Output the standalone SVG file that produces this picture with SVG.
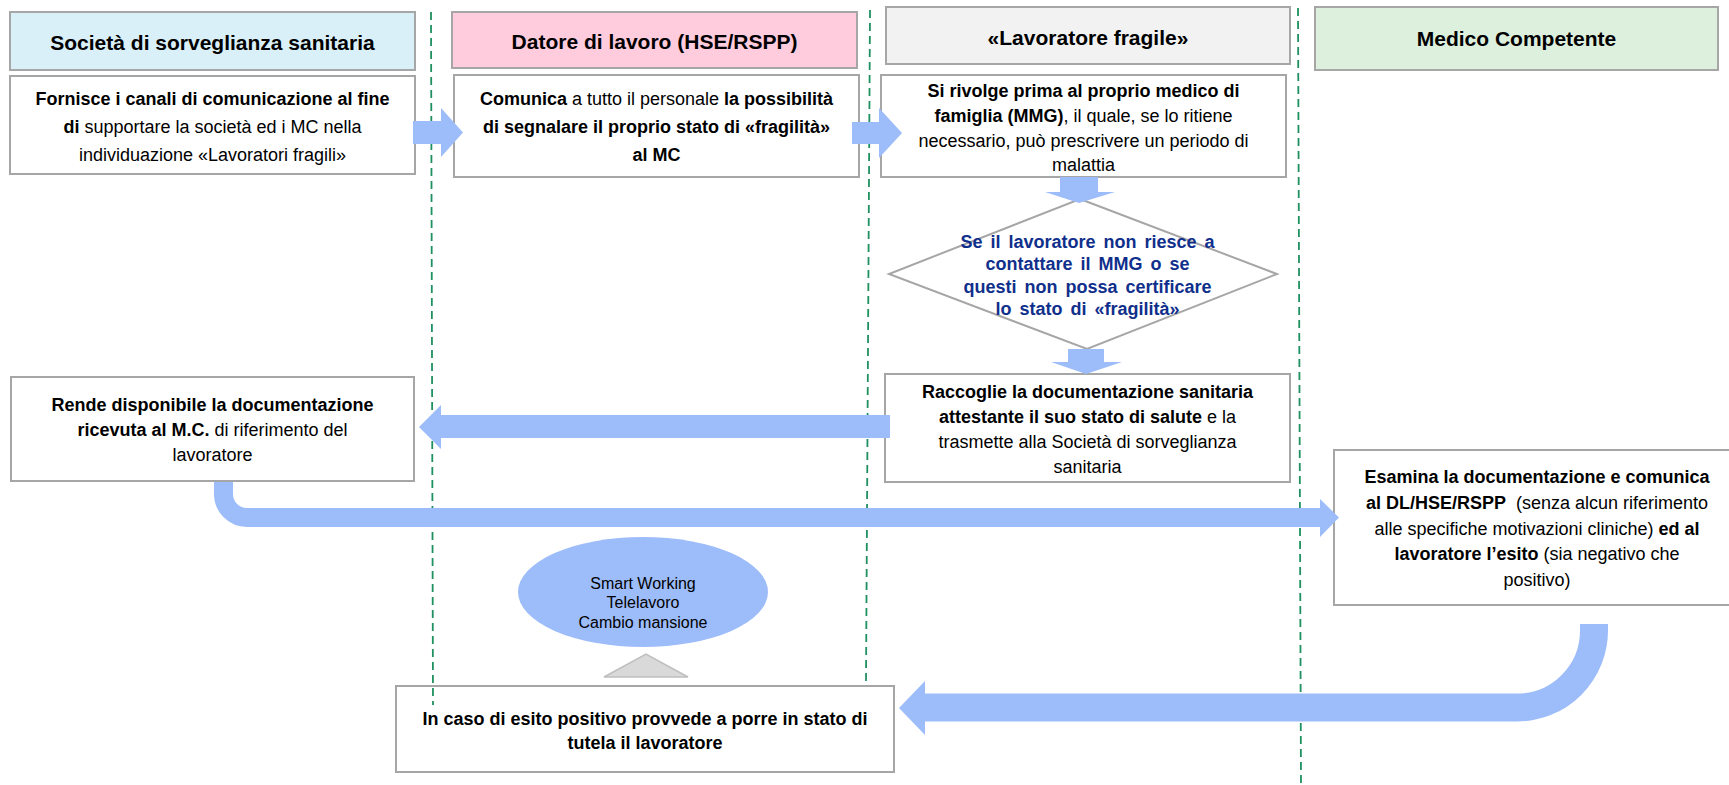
<svg xmlns="http://www.w3.org/2000/svg" width="1729" height="785" viewBox="0 0 1729 785">
<style>
.bg{fill:#ffffff}
.box{fill:#ffffff;stroke:#A6A6A6;stroke-width:2}
.hdr{stroke:#A6A6A6;stroke-width:2}
.t{font-family:"Liberation Sans",Arial,sans-serif;font-size:18px;text-anchor:middle;fill:#000}
.h{font-family:"Liberation Sans",Arial,sans-serif;font-size:21px;font-weight:bold;text-anchor:middle;fill:#000}
.d{font-family:"Liberation Sans",Arial,sans-serif;font-size:18px;font-weight:bold;text-anchor:middle;fill:#102F8C;word-spacing:3px}
.e{font-family:"Liberation Sans",Arial,sans-serif;font-size:16px;text-anchor:middle;fill:#000}
.b{font-weight:bold}
.lane{stroke:#1F9160;stroke-width:1.8;stroke-dasharray:8 5;fill:none}
.arr{fill:#9DBCFA}
.arrs{fill:none;stroke:#9DBCFA}
</style>
<rect class="bg" x="0" y="0" width="1729" height="785"/>

<g id="headers">
  <g id="h1"><rect class="hdr" x="10" y="12" width="405" height="58" fill="#DAF0F8"/><text class="h" x="212.5" y="50">Società di sorveglianza sanitaria</text></g>
  <g id="h2"><rect class="hdr" x="452" y="12" width="405" height="56" fill="#FFCCDD"/><text class="h" x="654.5" y="49">Datore di lavoro (HSE/RSPP)</text></g>
  <g id="h3"><rect class="hdr" x="886" y="7" width="404" height="57" fill="#F2F2F2"/><text class="h" x="1088" y="45">«Lavoratore fragile»</text></g>
  <g id="h4"><rect class="hdr" x="1315" y="7" width="403" height="63" fill="#DDF0DD"/><text class="h" x="1516.5" y="46">Medico Competente</text></g>
</g>

<g id="n1">
  <rect class="box" x="10" y="76" width="405" height="98"/>
  <text class="t b" x="212.5" y="105">Fornisce i canali di comunicazione al fine</text>
  <text class="t" x="212.5" y="133"><tspan class="b">di</tspan> supportare la società ed i MC nella</text>
  <text class="t" x="212.5" y="161">individuazione «Lavoratori fragili»</text>
</g>
<g id="n2">
  <rect class="box" x="454" y="75" width="405" height="102"/>
  <text class="t" x="656.5" y="105"><tspan class="b">Comunica</tspan> a tutto il personale <tspan class="b">la possibilità</tspan></text>
  <text class="t b" x="656.5" y="133">di segnalare il proprio stato di «fragilità»</text>
  <text class="t b" x="656.5" y="161">al MC</text>
</g>
<g id="n3">
  <rect class="box" x="881" y="75" width="405" height="102"/>
  <text class="t b" x="1083.5" y="97">Si rivolge prima al proprio medico di</text>
  <text class="t" x="1083.5" y="122"><tspan class="b">famiglia (MMG)</tspan>, il quale, se lo ritiene</text>
  <text class="t" x="1083.5" y="147">necessario, può prescrivere un periodo di</text>
  <text class="t" x="1083.5" y="171">malattia</text>
</g>
<g id="n4">
  <polygon points="1080,199 1277,274 1087,349 889,274" fill="#ffffff" stroke="#A6A6A6" stroke-width="2"/>
  <text class="d" x="1087.5" y="247.5">Se il lavoratore non riesce a</text>
  <text class="d" x="1087.5" y="269.5">contattare il MMG o se</text>
  <text class="d" x="1087.5" y="292.5">questi non possa certificare</text>
  <text class="d" x="1087.5" y="314.5">lo stato di «fragilità»</text>
</g>
<g id="n5">
  <rect class="box" x="885" y="374" width="405" height="108"/>
  <text class="t b" x="1087.5" y="398">Raccoglie la documentazione sanitaria</text>
  <text class="t" x="1087.5" y="423"><tspan class="b">attestante il suo stato di salute</tspan> e la</text>
  <text class="t" x="1087.5" y="448">trasmette alla Società di sorveglianza</text>
  <text class="t" x="1087.5" y="473">sanitaria</text>
</g>
<g id="n6">
  <rect class="box" x="11" y="377" width="403" height="104"/>
  <text class="t b" x="212.5" y="411">Rende disponibile la documentazione</text>
  <text class="t" x="212.5" y="436"><tspan class="b">ricevuta al M.C.</tspan> di riferimento del</text>
  <text class="t" x="212.5" y="461">lavoratore</text>
</g>
<g id="n7">
  <rect class="box" x="1334" y="450" width="410" height="155"/>
  <text class="t b" x="1537" y="483">Esamina la documentazione e comunica</text>
  <text class="t" x="1537" y="509"><tspan class="b">al DL/HSE/RSPP</tspan>&#160; (senza alcun riferimento</text>
  <text class="t" x="1537" y="535">alle specifiche motivazioni cliniche) <tspan class="b">ed al</tspan></text>
  <text class="t" x="1537" y="560"><tspan class="b">lavoratore l’esito</tspan> (sia negativo che</text>
  <text class="t" x="1537" y="586">positivo)</text>
</g>
<g id="n8">
  <ellipse cx="643" cy="592" rx="125" ry="55" fill="#9DBCFA"/>
  <text class="e" x="643" y="589">Smart Working</text>
  <text class="e" x="643" y="608">Telelavoro</text>
  <text class="e" x="643" y="628">Cambio mansione</text>
</g>
<g id="n9">
  <polygon points="604,677 646,654 688,677" fill="#D9D9D9" stroke="#BFBFBF" stroke-width="1.5"/>
</g>
<g id="n10">
  <rect class="box" x="396" y="686" width="498" height="86"/>
  <text class="t b" x="645" y="725">In caso di esito positivo provvede a porre in stato di</text>
  <text class="t b" x="645" y="749">tutela il lavoratore</text>
</g>

<g id="lanes">
  <line class="lane" x1="431" y1="12" x2="433" y2="705"/>
  <line class="lane" x1="870" y1="10" x2="866" y2="682"/>
  <line class="lane" x1="1298" y1="8" x2="1301" y2="785"/>
</g>

<g id="connectors">
  <polygon class="arr" points="413,121 441,121 441,108 463,132.5 441,157 441,144 413,144"/>
  <polygon class="arr" points="852,122 879,122 879,108 902,133 879,158 879,144 852,144"/>
  <polygon class="arr" points="1060,177 1098,177 1098,192 1115,192 1079,203 1045,192 1060,192"/>
  <polygon class="arr" points="1068,349 1104,349 1104,362 1122,362 1086,374 1051,362 1068,362"/>
  <polygon class="arr" points="890,415 441,415 441,405 419,427 441,449 441,438 890,438"/>
  <path class="arrs" stroke-width="19" d="M223.5,482 V494 A23.5,23.5 0 0 0 247,517.5 H1321"/>
  <polygon class="arr" points="1320,499 1339,517.5 1320,537"/>
  <path class="arrs" stroke-width="28" d="M1594,624 V630 A77,77 0 0 1 1517,707.5 H924"/>
  <polygon class="arr" points="925,681 899,708 925,735"/>
</g>
</svg>
